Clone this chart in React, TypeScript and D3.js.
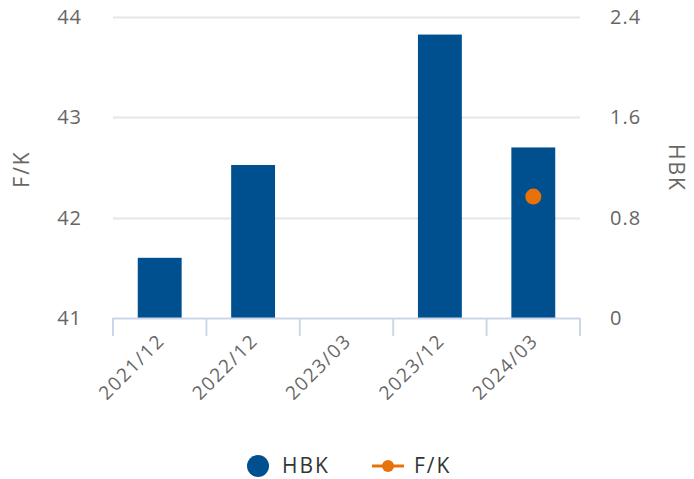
import React, { useEffect, useRef } from 'react';
import * as d3 from 'd3';

const categories = ['2021/12', '2022/12', '2023/03', '2023/12', '2024/03'];
const hbkValues: (number | null)[] = [0.48, 1.22, null, 2.26, 1.36];
const fkValues: (number | null)[] = [null, null, null, null, 42.21];
const leftTicks = [41, 42, 43, 44];
const rightTicks = [0, 0.8, 1.6, 2.4];

const App = () => {
  const ref = useRef<SVGSVGElement>(null);

  useEffect(() => {
    const svg = d3.select(ref.current);
    svg.selectAll('*').remove();

    const width = 694;
    const height = 479;
    const left = 113;
    const right = 580;
    const top = 17;
    const bottom = 318;
    const font = '"Open Sans", sans-serif';

    const x = d3.scaleBand().domain(categories).range([left, right]).paddingInner(0.53).paddingOuter(0.265);
    const yLeft = d3.scaleLinear().domain([41, 44]).range([bottom, top]);
    const yRight = d3.scaleLinear().domain([0, 2.4]).range([bottom, top]);

    svg.attr('width', width).attr('height', height);

    // grid lines
    svg.append('g')
      .selectAll('line')
      .data(rightTicks.slice(1))
      .enter()
      .append('line')
      .attr('x1', left)
      .attr('x2', right)
      .attr('y1', (d) => Math.round(yRight(d)) + 0.5)
      .attr('y2', (d) => Math.round(yRight(d)) + 0.5)
      .attr('stroke', '#e6e6e6')
      .attr('stroke-width', 2);

    // bars
    svg.append('g')
      .selectAll('rect')
      .data(categories.map((c, i) => ({ c, v: hbkValues[i] })).filter((d) => d.v !== null))
      .enter()
      .append('rect')
      .attr('x', (d) => x(d.c)!)
      .attr('width', x.bandwidth())
      .attr('y', (d) => yRight(d.v as number))
      .attr('height', (d) => bottom - yRight(d.v as number))
      .attr('fill', '#00508f');

    // x axis
    const step = x.step();
    const tickXs = d3.range(categories.length + 1).map((i) => left + i * step);
    svg.append('line')
      .attr('x1', left)
      .attr('x2', right)
      .attr('y1', bottom + 0.5)
      .attr('y2', bottom + 0.5)
      .attr('stroke', '#ccd6eb')
      .attr('stroke-width', 2);
    svg.append('g')
      .selectAll('line')
      .data(tickXs)
      .enter()
      .append('line')
      .attr('x1', (d) => d)
      .attr('x2', (d) => d)
      .attr('y1', bottom)
      .attr('y2', bottom + 18)
      .attr('stroke', '#ccd6eb')
      .attr('stroke-width', 2);

    svg.append('g')
      .selectAll('text')
      .data(categories)
      .enter()
      .append('text')
      .attr('transform', (d) => `translate(${x(d)! + x.bandwidth() / 2 + 6},${bottom + 24}) rotate(-45)`)
      .attr('text-anchor', 'end')
      .attr('font-family', font)
      .attr('font-size', 19)
      .attr('letter-spacing', 1.6)
      .attr('fill', '#666')
      .text((d) => d);

    // left axis labels
    svg.append('g')
      .selectAll('text')
      .data(leftTicks)
      .enter()
      .append('text')
      .attr('x', 82)
      .attr('y', (d) => yLeft(d) + 7)
      .attr('text-anchor', 'end')
      .attr('font-family', font)
      .attr('font-size', 20)
      .attr('letter-spacing', 1)
      .attr('fill', '#666')
      .text((d) => d);

    // right axis labels
    svg.append('g')
      .selectAll('text')
      .data(rightTicks)
      .enter()
      .append('text')
      .attr('x', 610)
      .attr('y', (d) => yRight(d) + 7)
      .attr('text-anchor', 'start')
      .attr('font-family', font)
      .attr('font-size', 20)
      .attr('letter-spacing', 1)
      .attr('fill', '#666')
      .text((d) => d3.format('')(d));

    // axis titles
    svg.append('text')
      .attr('transform', `translate(29,169) rotate(-90)`)
      .attr('text-anchor', 'middle')
      .attr('font-family', font)
      .attr('font-size', 21)
      .attr('letter-spacing', 2)
      .attr('fill', '#666')
      .text('F/K');
    svg.append('text')
      .attr('transform', `translate(669,168) rotate(90)`)
      .attr('text-anchor', 'middle')
      .attr('font-family', font)
      .attr('font-size', 21)
      .attr('letter-spacing', 2)
      .attr('fill', '#666')
      .text('HBK');

    // F/K points
    svg.append('g')
      .selectAll('circle')
      .data(categories.map((c, i) => ({ c, v: fkValues[i] })).filter((d) => d.v !== null))
      .enter()
      .append('circle')
      .attr('cx', (d) => x(d.c)! + x.bandwidth() / 2)
      .attr('cy', (d) => yLeft(d.v as number))
      .attr('r', 8)
      .attr('fill', '#e8710a');

    // legend
    const legend = svg.append('g').attr('font-family', font).attr('font-size', 21).attr('letter-spacing', 2).attr('fill', '#333');
    legend.append('circle').attr('cx', 258).attr('cy', 466).attr('r', 11).attr('fill', '#00508f');
    legend.append('text').attr('x', 282).attr('y', 473).text('HBK');
    legend.append('line').attr('x1', 372).attr('x2', 404).attr('y1', 466).attr('y2', 466).attr('stroke', '#e8710a').attr('stroke-width', 3);
    legend.append('circle').attr('cx', 388).attr('cy', 466).attr('r', 6).attr('fill', '#e8710a');
    legend.append('text').attr('x', 414).attr('y', 473).text('F/K');
  }, []);

  return <svg ref={ref} style={{ position: 'absolute', left: 0, top: 0 }}></svg>;
};

export default App;
